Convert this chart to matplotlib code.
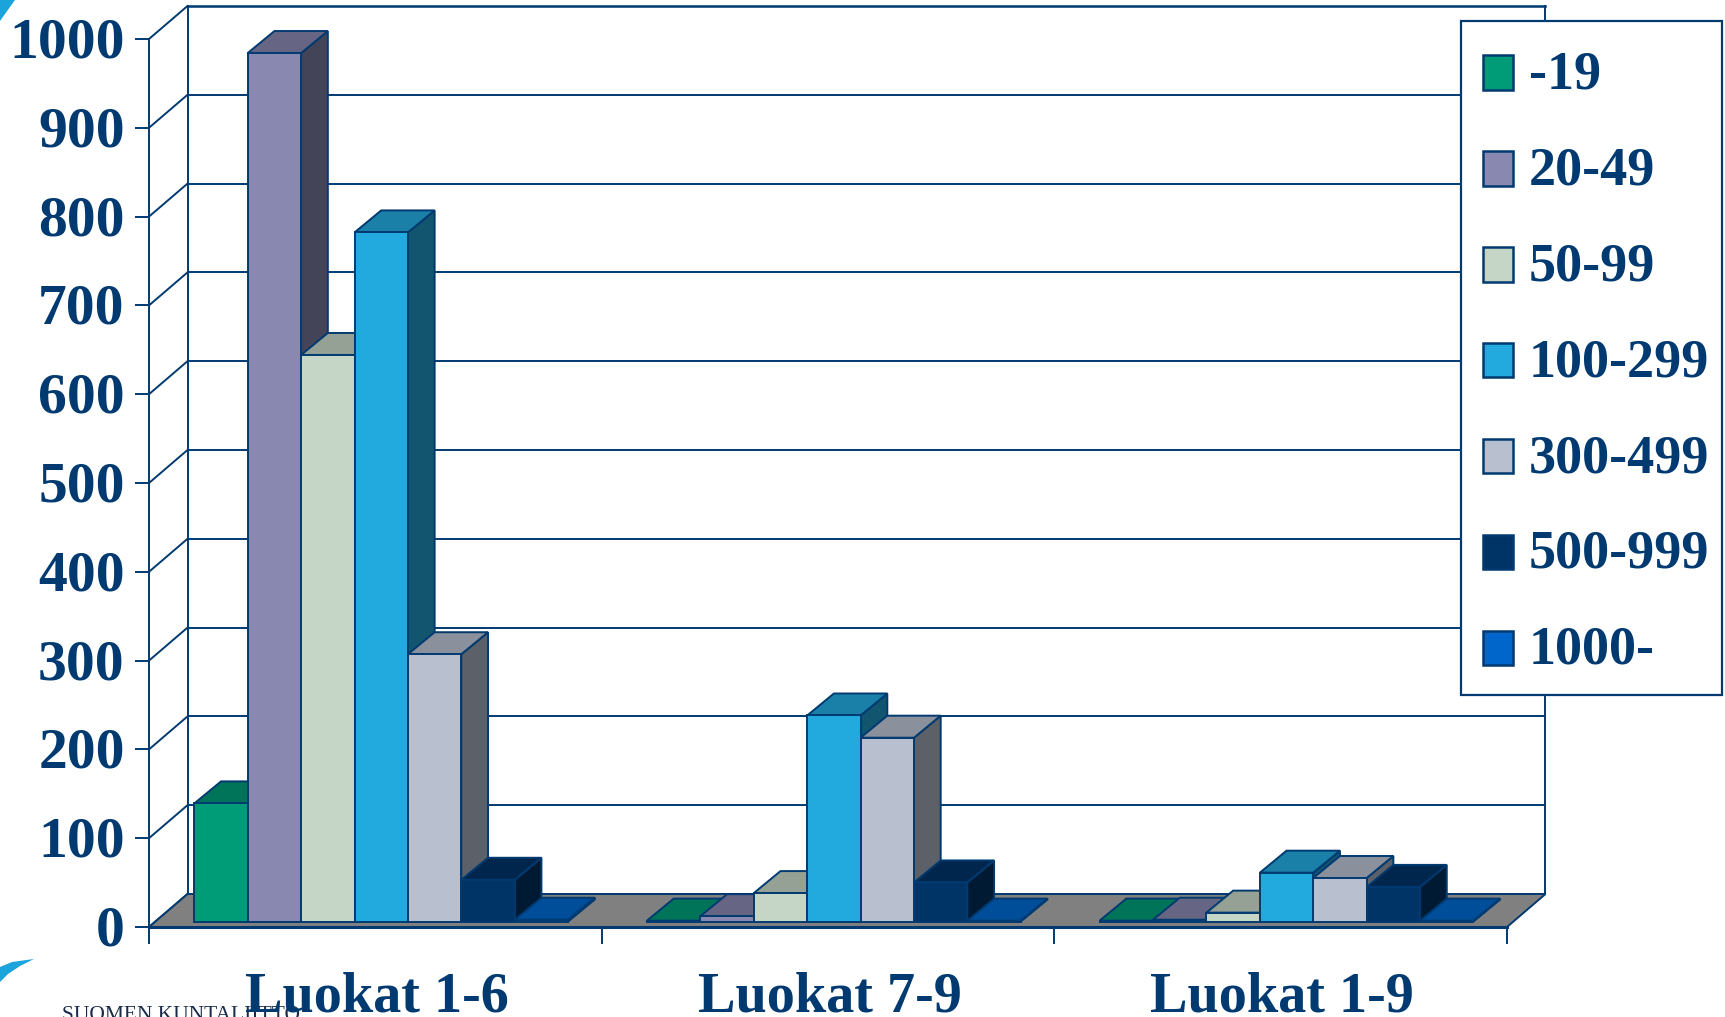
import matplotlib
matplotlib.use("Agg")
import matplotlib.pyplot as plt
from matplotlib.patches import Polygon, Patch, Rectangle
from matplotlib.legend_handler import HandlerPatch
from matplotlib.transforms import ScaledTranslation

categories = ["Luokat 1-6", "Luokat 7-9", "Luokat 1-9"]
series_names = ["-19", "20-49", "50-99", "100-299", "300-499", "500-999", "1000-"]
v_19 = [133, 1, 1]
v_20_49 = [978, 6, 2]
v_50_99 = [638, 32, 10]
v_100_299 = [776, 232, 55]
v_300_499 = [301, 207, 49]
v_500_999 = [47, 44, 39]
v_1000 = [2, 1, 1]
series = [v_19, v_20_49, v_50_99, v_100_299, v_300_499, v_500_999, v_1000]
y_ticks = [0, 100, 200, 300, 400, 500, 600, 700, 800, 900, 1000]
colors = ["#009B77", "#8888B0", "#C6D6C6", "#22AADE", "#B8C0D0", "#003366", "#0066CC"]
NAVY = "#003A70"
FONT = "Liberation Serif"
FS = 41.5
CAT_FS = 40.5
LEG_FS = 39

W, H = 1725, 1017
fig = plt.figure(figsize=(W / 100, H / 100), dpi=100, facecolor="white")
L, R, B, T = 149, 1507, 927, 39
ax = fig.add_axes([L / W, 1 - B / H, (R - L) / W, (B - T) / H])
ax.set_xlim(0, 3)
ax.set_ylim(0, 1000)
ax.patch.set_visible(False)

px_x = 3 / (R - L)
px_y = 1000 / (B - T)
DX, DY = 38.5 * px_x, 33 * px_y          # wall depth
BDX, BDY = 26.7 * px_x, 22 * px_y        # bar depth
OX, OY = (DX - BDX) / 2, (DY - BDY) / 2  # bar inset on the floor
LW = 1.4


def shade(c, f):
    r, g, b = matplotlib.colors.to_rgb(c)
    return (r * f, g * f, b * f)


# walls and floor
ax.add_patch(Polygon([(0, 0), (3, 0), (3 + DX, DY), (DX, DY)], closed=True, fc="#808080",
                     ec=NAVY, lw=LW, clip_on=False, zorder=1.5))
for v in y_ticks:
    ax.plot([0, DX], [v, v + DY], color=NAVY, lw=LW, clip_on=False, zorder=1)
    ax.plot([DX, 3 + DX], [v + DY, v + DY], color=NAVY, lw=LW * (1.3 if v == 1000 else 1),
            clip_on=False, zorder=1)
ax.plot([DX, DX], [DY, 1000 + DY], color=NAVY, lw=LW, clip_on=False, zorder=1)
ax.plot([3 + DX, 3 + DX], [DY, 1000 + DY], color=NAVY, lw=LW, clip_on=False, zorder=1)

# bars
n = len(series)
bw = 53.4 * px_x
gap = (1 - n * bw) / 2
z = 2
for i in range(len(categories)):
    for j, vals in enumerate(series):
        v = vals[i]
        x0 = i + gap + j * bw + OX
        x1 = x0 + bw
        y0 = OY
        y1 = OY + v
        c = colors[j]
        ax.add_patch(Polygon([(x1, y0), (x1 + BDX, y0 + BDY), (x1 + BDX, y1 + BDY), (x1, y1)],
                             closed=True, fc=shade(c, 0.5), ec=NAVY, lw=LW, clip_on=False, zorder=z))
        ax.add_patch(Polygon([(x0, y1), (x1, y1), (x1 + BDX, y1 + BDY), (x0 + BDX, y1 + BDY)],
                             closed=True, fc=shade(c, 0.75), ec=NAVY, lw=LW, clip_on=False, zorder=z))
        ax.bar(x0, v, width=bw, bottom=y0, align="edge", color=c, edgecolor=NAVY, lw=LW,
               clip_on=False, zorder=z + 0.1)
        z += 1

# axes
for s in ("top", "right"):
    ax.spines[s].set_visible(False)
for s in ("left", "bottom"):
    ax.spines[s].set_color(NAVY)
    ax.spines[s].set_zorder(500)
ax.spines["left"].set_linewidth(LW)
ax.spines["bottom"].set_linewidth(2.2)
ax.set_yticks(y_ticks)
ax.set_yticklabels([str(v) for v in y_ticks], fontfamily=FONT, fontweight="bold", fontsize=FS, color=NAVY)
ax.tick_params(axis="y", length=10, width=LW, color=NAVY, pad=7.5)
ax.set_xticks([0, 1, 2, 3])
ax.set_xticklabels([])
ax.tick_params(axis="x", which="major", length=12, width=LW, color=NAVY)
ax.set_xticks([0.5, 1.5, 2.5], minor=True)
ax.set_xticklabels(categories, minor=True, fontfamily=FONT, fontweight="bold", fontsize=CAT_FS, color=NAVY)
ax.tick_params(axis="x", which="minor", length=0, pad=32)
up = ScaledTranslation(0, 1.5 / 100, fig.dpi_scale_trans)
for t in ax.get_yticklabels():
    t.set_transform(t.get_transform() + up)
right = ScaledTranslation(1.5 / 100, 0, fig.dpi_scale_trans)
for t in ax.get_xticklabels(minor=True):
    t.set_transform(t.get_transform() + right)


# legend
def low_patch(legend, orig_handle, xdescent, ydescent, width, height, fontsize):
    return Rectangle((-xdescent, -ydescent - 2.2), width, height)


fig.add_artist(Rectangle((1461 / W, 1 - 695 / H), (1721.5 - 1461) / W, (695 - 21) / H, fc="white", ec=NAVY,
                         lw=1.6, transform=fig.transFigure, zorder=999))
handles = [Patch(facecolor=c, edgecolor=NAVY, lw=1.8) for c in colors]
leg = fig.legend(handles, series_names, loc="upper left", bbox_to_anchor=(1482.7 / W, 1 - 50.6 / H),
                 bbox_transform=fig.transFigure, borderaxespad=0, frameon=False,
                 prop={"family": FONT, "weight": "bold", "size": LEG_FS},
                 handlelength=0.56, handleheight=0.6, handletextpad=0.29, labelspacing=0.847,
                 borderpad=0, labelcolor=NAVY,
                 handler_map={Patch: HandlerPatch(patch_func=low_patch)})
leg.set_zorder(1000)

# logo remnants
fig.add_artist(Polygon([(0, 1 - 21 / H), (15 / W, 1), (0, 1)], closed=True, fc="#1BA3DC", ec="none",
                       transform=fig.transFigure))
swoosh = [(0, 967), (12, 962), (34, 959), (20, 966), (8, 974), (0, 982)]
fig.add_artist(Polygon([(x / W, 1 - y / H) for x, y in swoosh], closed=True, fc="#1BA3DC", ec="none",
                       transform=fig.transFigure))
fig.text(62 / W, 1 - 1020 / H, "SUOMEN KUNTALIITTO", family=FONT, fontsize=15.5, color="#1A2A4A",
         ha="left", va="baseline", zorder=-1)

fig.savefig("out.png", dpi=100)
